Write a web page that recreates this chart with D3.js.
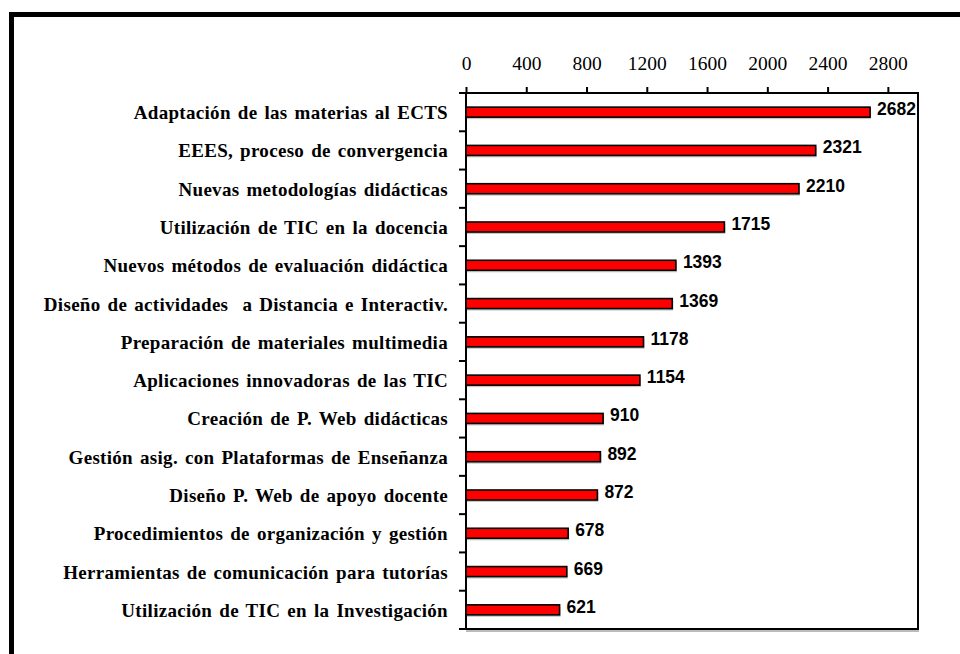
<!DOCTYPE html>
<html>
<head>
<meta charset="utf-8">
<script src="https://cdn.jsdelivr.net/npm/d3@7"></script>
<style>
  html, body { margin: 0; padding: 0; background: #fff; }
  svg { display: block; }
</style>
</head>
<body>
<svg id="chart" width="960" height="654"></svg>
<script>
// data
var categories = [
    "Adaptación de las materias al ECTS",
    "EEES, proceso de convergencia",
    "Nuevas metodologías didácticas",
    "Utilización de TIC en la docencia",
    "Nuevos métodos de evaluación didáctica",
    "Diseño de actividades  a Distancia e Interactiv.",
    "Preparación de materiales multimedia",
    "Aplicaciones innovadoras de las TIC",
    "Creación de P. Web didácticas",
    "Gestión asig. con Plataformas de Enseñanza",
    "Diseño P. Web de apoyo docente",
    "Procedimientos de organización y gestión",
    "Herramientas de comunicación para tutorías",
    "Utilización de TIC en la Investigación"
];
var values = [2682, 2321, 2210, 1715, 1393, 1369, 1178, 1154, 910, 892, 872, 678, 669, 621];
var xTicks = [0, 400, 800, 1200, 1600, 2000, 2400, 2800];

var svg = d3.select("svg#chart");
var margin = {top: 93, right: 42, bottom: 25, left: 466},
    width = +svg.attr("width") - margin.left - margin.right,
    height = +svg.attr("height") - margin.top - margin.bottom;

// outer frame (only top and left edges show)
svg.append("path")
    .attr("d", "M11.5,660 L11.5,14.5 L966,14.5")
    .attr("fill", "none")
    .attr("stroke", "#000")
    .attr("stroke-width", 5);

var g = svg.append("g").attr("transform", "translate(" + margin.left + "," + margin.top + ")");

var x = d3.scaleLinear().domain([0, 3000]).range([0, width]);
var y = d3.scaleBand().domain(categories).range([0, height]);
var barH = 10;

// plot box with a faint shadow
g.append("path")
    .attr("d", "M0," + (height + 2) + "H" + (width + 1))
    .attr("stroke", "#bbb").attr("stroke-width", 2);
g.append("rect")
    .attr("x", 0).attr("y", 0)
    .attr("width", width).attr("height", height)
    .attr("fill", "none")
    .attr("stroke", "#000")
    .attr("stroke-width", 2);

// bars
var data = categories.map(function (c, i) { return {cat: c, val: values[i]}; });

g.selectAll("rect.shadow")
    .data(data)
    .enter().append("rect")
    .attr("class", "shadow")
    .attr("x", 1)
    .attr("y", function (d) { return y(d.cat) + y.bandwidth() / 2 - barH / 2 + 2; })
    .attr("width", function (d) { return x(d.val); })
    .attr("height", barH)
    .attr("fill", "#c8c8c8");

g.selectAll("rect.bar")
    .data(data)
    .enter().append("rect")
    .attr("class", "bar")
    .attr("x", 0)
    .attr("y", function (d) { return y(d.cat) + y.bandwidth() / 2 - barH / 2; })
    .attr("width", function (d) { return x(d.val); })
    .attr("height", barH)
    .attr("fill", "#ff0000")
    .attr("stroke", "#000")
    .attr("stroke-width", 1.6);

g.selectAll("text.val")
    .data(data)
    .enter().append("text")
    .attr("class", "val")
    .attr("x", function (d) { return x(d.val) + 7; })
    .attr("y", function (d) { return y(d.cat) + y.bandwidth() / 2 + 3; })
    .attr("font-family", "'Liberation Sans', Arial, sans-serif")
    .attr("font-weight", "bold")
    .attr("font-size", 17.5)
    .attr("fill", "#000")
    .text(function (d) { return d.val; });

// top axis
var xAxis = g.append("g")
    .call(d3.axisTop(x).tickValues(xTicks).tickSize(6).tickPadding(17).tickFormat(d3.format("d")));
xAxis.select(".domain").remove();
xAxis.selectAll("line").attr("stroke", "#000").attr("stroke-width", 2);
xAxis.selectAll("text")
    .attr("font-family", "'Liberation Serif', 'Times New Roman', serif")
    .attr("font-size", 19.5)
    .attr("fill", "#000");

// left axis: ticks sit between categories
var bounds = d3.range(categories.length + 1).map(function (i) { return i * y.step(); });
g.selectAll("line.ytick")
    .data(bounds)
    .enter().append("line")
    .attr("class", "ytick")
    .attr("x1", -7).attr("x2", 0)
    .attr("y1", function (d) { return d; })
    .attr("y2", function (d) { return d; })
    .attr("stroke", "#000")
    .attr("stroke-width", 2);

g.selectAll("text.cat")
    .data(categories)
    .enter().append("text")
    .attr("class", "cat")
    .attr("x", -18)
    .attr("y", function (d) { return y(d) + y.bandwidth() / 2 + 7; })
    .attr("text-anchor", "end")
    .attr("font-family", "'Liberation Serif', 'Times New Roman', serif")
    .attr("font-weight", "bold")
    .attr("font-size", 19)
    .attr("letter-spacing", 0.3)
    .attr("word-spacing", 2)
    .attr("fill", "#000")
    .style("white-space", "pre")
    .text(function (d) { return d; });
</script>
</body>
</html>
